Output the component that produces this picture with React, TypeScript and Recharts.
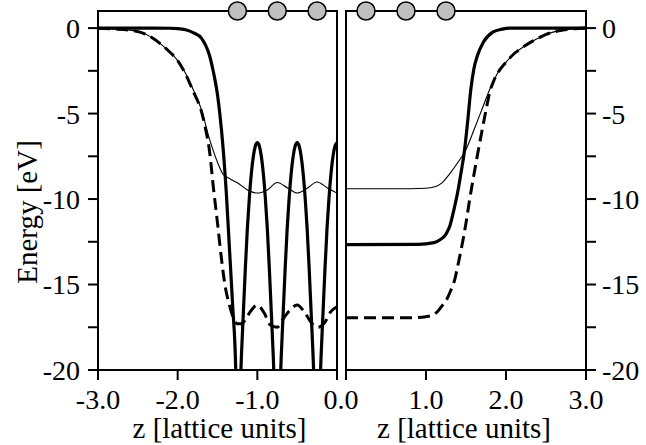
import React from 'react';
import { LineChart, Line, XAxis, YAxis, ReferenceArea, ReferenceDot, Label } from 'recharts';

const serif = "'Liberation Serif', 'Times New Roman', Times, serif";

// axis ticks
const energyTicks = [-20, -17.5, -15, -12.5, -10, -7.5, -5, -2.5, 0];
const energyLabels = ['-20', '', '-15', '', '-10', '', '-5', '', '0'];
const zTicksLeft = [-3, -2, -1, 0];
const zLabelsLeft = ['-3.0', '-2.0', '-1.0', '0.0'];
const zTicksRight = [0, 1, 2, 3];
const zLabelsRight = ['', '1.0', '2.0', '3.0'];

// atom positions drawn on the top edge
const atomsLeft = [-1.25, -0.75, -0.25];
const atomsRight = [0.25, 0.75, 1.25];
const atomRow = 1;

// left panel, [z, E]
const leftThick = [
  [-3.0, 0], [-2.4, 0], [-2.1, -0.01], [-2.0, -0.03], [-1.9, -0.1], [-1.8, -0.28], [-1.7, -0.6],
  [-1.65, -1.0], [-1.6, -1.6], [-1.55, -2.6], [-1.5, -3.9], [-1.47, -5.05], [-1.43, -7.0],
  [-1.39, -9.6], [-1.35, -12.9], [-1.31, -16.2], [-1.27, -20.2], [-1.25, -26],
  [-1.225, -22.5], [-1.2, -19.2], [-1.175, -16.6], [-1.15, -14.0], [-1.125, -11.7], [-1.1, -9.9],
  [-1.075, -8.5], [-1.05, -7.5], [-1.025, -6.9], [-1.0, -6.7], [-0.975, -6.9], [-0.95, -7.5],
  [-0.925, -8.5], [-0.9, -9.9], [-0.875, -11.7], [-0.85, -14.0], [-0.825, -16.6], [-0.8, -19.2],
  [-0.775, -22.5], [-0.75, -26], [-0.725, -22.5], [-0.7, -19.2], [-0.675, -16.6], [-0.65, -14.0],
  [-0.625, -11.7], [-0.6, -9.9], [-0.575, -8.5], [-0.55, -7.5], [-0.525, -6.9], [-0.5, -6.7],
  [-0.475, -6.9], [-0.45, -7.5], [-0.425, -8.5], [-0.4, -9.9], [-0.375, -11.7], [-0.35, -14.0],
  [-0.325, -16.6], [-0.3, -19.2], [-0.275, -22.5], [-0.25, -26], [-0.225, -22.5], [-0.2, -19.2],
  [-0.175, -16.6], [-0.15, -14.0], [-0.125, -11.7], [-0.1, -9.9], [-0.075, -8.5], [-0.05, -7.5],
  [-0.025, -6.9], [0, -6.7],
];
const leftThin = [
  [-3.0, -0.01], [-2.8, -0.05], [-2.6, -0.12], [-2.4, -0.36], [-2.2, -0.98], [-2.1, -1.4],
  [-2.0, -1.9], [-1.9, -2.65], [-1.8, -3.65], [-1.7, -4.8], [-1.6, -6.5], [-1.5, -7.85],
  [-1.43, -8.55], [-1.35, -8.8], [-1.25, -9.05], [-1.13, -9.45], [-1.0, -9.65], [-0.87, -9.45],
  [-0.75, -9.03], [-0.62, -9.35], [-0.5, -9.65], [-0.37, -9.35], [-0.25, -9.0], [-0.12, -9.35],
  [0, -9.65],
];
const leftDashed = [
  [-3.0, -0.01], [-2.8, -0.05], [-2.6, -0.12], [-2.4, -0.36], [-2.2, -0.98], [-2.1, -1.4],
  [-2.0, -1.9], [-1.9, -2.7], [-1.8, -3.75], [-1.7, -4.9], [-1.65, -5.9], [-1.6, -7.2],
  [-1.55, -9.4], [-1.5, -11.4], [-1.45, -13.5], [-1.4, -15.2], [-1.35, -16.2], [-1.3, -16.95],
  [-1.25, -17.3], [-1.2, -17.3], [-1.15, -17.05], [-1.09, -16.6], [-1.0, -16.2], [-0.91, -16.7],
  [-0.84, -17.35], [-0.75, -17.5], [-0.69, -17.1], [-0.6, -16.55], [-0.5, -16.2], [-0.41, -16.6],
  [-0.32, -17.25], [-0.24, -17.5], [-0.15, -17.2], [-0.08, -16.6], [0, -16.3],
];

// right panel, [z, E]
const rightThick = [
  [0, -12.67], [0.9, -12.65], [1.1, -12.55], [1.175, -12.38], [1.25, -12.05], [1.3, -11.55],
  [1.35, -10.6], [1.4, -9.5], [1.44, -8.4], [1.48, -7.2], [1.52, -5.5], [1.56, -3.6],
  [1.6, -2.35], [1.64, -1.65], [1.72, -0.8], [1.84, -0.22], [1.95, -0.06], [2.05, 0], [3.0, 0],
];
const rightThin = [
  [0, -9.4], [0.6, -9.4], [1.0, -9.37], [1.1, -9.3], [1.2, -9.05], [1.3, -8.5], [1.4, -7.85],
  [1.5, -7.1], [1.6, -5.95], [1.7, -4.75], [1.8, -3.55], [1.85, -3.05], [1.9, -2.6], [2.0, -2.0],
  [2.1, -1.5], [2.2, -1.15], [2.3, -0.85], [2.4, -0.6], [2.5, -0.37], [2.6, -0.22], [2.7, -0.12],
  [2.8, -0.06], [2.9, -0.02], [3.0, 0],
];
const rightDashed = [
  [0, -16.95], [0.8, -16.95], [1.0, -16.88], [1.1, -16.75], [1.15, -16.55], [1.2, -16.25],
  [1.25, -15.95], [1.3, -15.45], [1.36, -14.7], [1.4, -13.85], [1.47, -12.2], [1.5, -11.4],
  [1.55, -9.9], [1.6, -8.55], [1.65, -7.25], [1.7, -6.0], [1.75, -4.8], [1.8, -3.7], [1.85, -3.05],
  [1.9, -2.6], [2.0, -2.0], [2.1, -1.5], [2.2, -1.15], [2.3, -0.85], [2.4, -0.6], [2.5, -0.37],
  [2.6, -0.22], [2.7, -0.12], [2.8, -0.06], [2.9, -0.02], [3.0, 0],
];

const toPts = (arr: number[][]) => arr.map(([z, e]) => ({ z, e }));

const fontProps = { fill: '#000', fontSize: 28, fontFamily: serif };
const titleProps = { fill: '#000', fontSize: 29, fontFamily: serif };
const axisStroke = { stroke: '#000', strokeWidth: 2 };

const energyFmt = (v: number) => energyLabels[energyTicks.indexOf(v)] ?? '';

const ZTick = (props: any) => {
  const { x, y, payload, ticks, labels, shift } = props;
  const i = ticks.indexOf(payload.value);
  return (
    <text x={x + (payload.value === 0 ? shift : 0)} y={y} dy="0.71em" textAnchor="middle" {...fontProps}>
      {labels[i]}
    </text>
  );
};

const EnergyLabel = () => (
  <text transform="translate(36.5 212) rotate(-90)" textAnchor="middle" {...titleProps}>
    Energy [eV]
  </text>
);

const curves = (thick: number[][], thin: number[][], dashed: number[][]) => [
  <Line key="thin" data={toPts(thin)} dataKey="e" type="monotone" stroke="#000" strokeWidth={1.1}
    dot={false} activeDot={false} isAnimationActive={false} />,
  <Line key="dashed" data={toPts(dashed)} dataKey="e" type="monotone" stroke="#000" strokeWidth={3}
    strokeDasharray="12 6" dot={false} activeDot={false} isAnimationActive={false} />,
  <Line key="thick" data={toPts(thick)} dataKey="e" type="monotone" stroke="#000" strokeWidth={3.2}
    dot={false} activeDot={false} isAnimationActive={false} />,
];

const atomDots = (atoms: number[]) =>
  atoms.map((z) => (
    <ReferenceDot key={z} x={z} y={atomRow} r={9} fill="#c0c0c0" stroke="#000" strokeWidth={1.5} />
  ));

export default function App() {
  return (
    <div style={{ position: 'absolute', left: 0, top: 0, width: 646, height: 445, background: '#fff' }}>
      <div style={{ position: 'absolute', left: 0, top: 0 }}>
        <LineChart width={370} height={445} margin={{ top: 11, right: 33, bottom: 0, left: 0 }}>
          <XAxis type="number" dataKey="z" domain={[-3, 0]} ticks={zTicksLeft} interval={0}
            allowDataOverflow height={75} tickSize={10} tickMargin={9}
            axisLine={axisStroke} tickLine={axisStroke}
            tick={(p: any) => <ZTick {...p} ticks={zTicksLeft} labels={zLabelsLeft} shift={4} />}>
            <Label value="z [lattice units]" position="insideBottom" offset={7} dx={2} {...titleProps} />
          </XAxis>
          <YAxis type="number" domain={[-20, 1]} ticks={energyTicks} interval={0} allowDataOverflow
            width={98} tickSize={10} tickMargin={8} tickFormatter={energyFmt}
            axisLine={axisStroke} tickLine={axisStroke} tick={fontProps} label={<EnergyLabel />} />
          <ReferenceArea x1={-3} x2={0} y1={-20} y2={1} fill="none" stroke="#000" strokeWidth={2} />
          {curves(leftThick, leftThin, leftDashed)}
          {atomDots(atomsLeft)}
        </LineChart>
      </div>
      <div style={{ position: 'absolute', left: 337, top: 0 }}>
        <LineChart width={309} height={445} margin={{ top: 11, right: 0, bottom: 0, left: 9 }}>
          <XAxis type="number" dataKey="z" domain={[0, 3]} ticks={zTicksRight} interval={0}
            allowDataOverflow height={75} tickSize={10} tickMargin={9}
            axisLine={axisStroke} tickLine={axisStroke}
            tick={(p: any) => <ZTick {...p} ticks={zTicksRight} labels={zLabelsRight} shift={0} />}>
            <Label value="z [lattice units]" position="insideBottom" offset={7} dx={-2} {...titleProps} />
          </XAxis>
          <YAxis type="number" orientation="right" domain={[-20, 1]} ticks={energyTicks} interval={0}
            allowDataOverflow width={60} tickSize={10} tickMargin={6} tickFormatter={energyFmt}
            axisLine={axisStroke} tickLine={axisStroke} tick={fontProps} />
          <ReferenceArea x1={0} x2={3} y1={-20} y2={1} fill="none" stroke="#000" strokeWidth={2} />
          {curves(rightThick, rightThin, rightDashed)}
          {atomDots(atomsRight)}
        </LineChart>
      </div>
    </div>
  );
}
